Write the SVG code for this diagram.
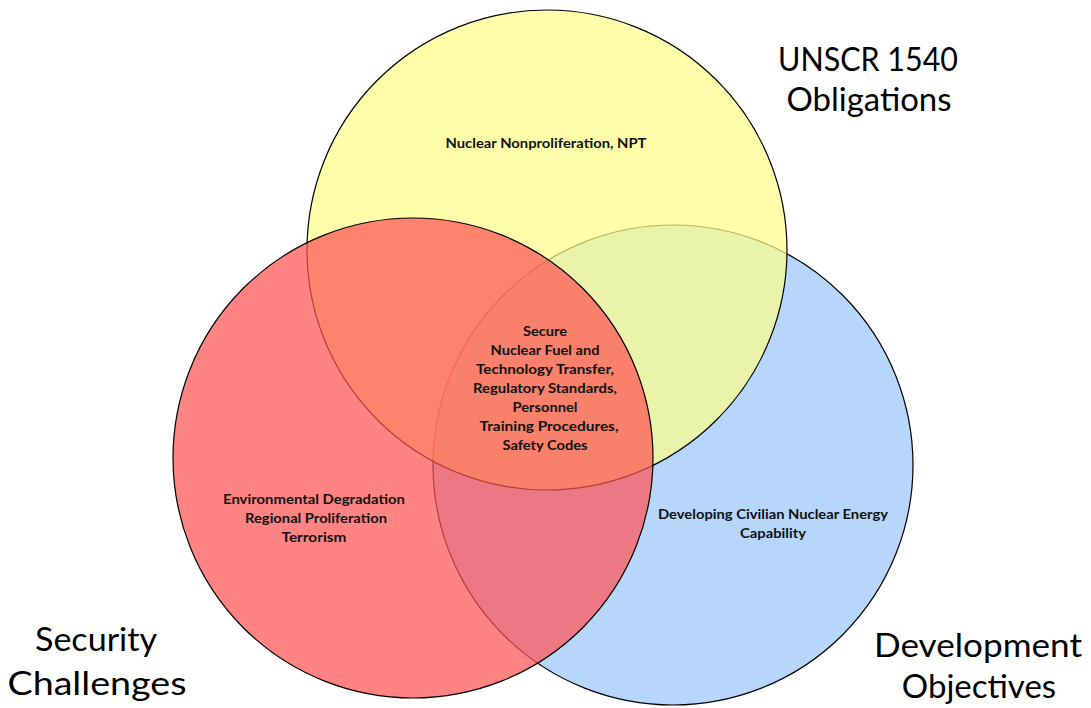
<svg xmlns="http://www.w3.org/2000/svg" width="1091" height="708" viewBox="0 0 1091 708">
<style>
.c{stroke:#000;stroke-width:1.2}
.s{font-family:Lato,"Open Sans","Liberation Sans",sans-serif;font-weight:bold;font-size:14px;fill:#111;text-anchor:middle}
.b{font-family:Lato,"Open Sans","Liberation Sans",sans-serif;font-size:33px;fill:#000;text-anchor:middle}
</style>
<rect width="1091" height="708" fill="#fff"/>
<g id="development">
<circle class="c" cx="673" cy="465" r="240" fill="#B6D6FB"/>
</g>
<g id="unscr">
<circle class="c" cx="547" cy="250" r="240" fill="rgb(255,255,135)" fill-opacity="0.7"/>
</g>
<g id="security">
<circle class="c" cx="413" cy="458" r="240" fill="rgb(255,83,83)" fill-opacity="0.72"/>
</g>
<g id="labels">
<text class="s" x="546" y="148" textLength="201" lengthAdjust="spacingAndGlyphs">Nuclear Nonproliferation, NPT</text>
<text class="s" x="545" y="336" textLength="44" lengthAdjust="spacingAndGlyphs">Secure</text>
<text class="s" x="545" y="355" textLength="109" lengthAdjust="spacingAndGlyphs">Nuclear Fuel and</text>
<text class="s" x="545" y="374" textLength="138" lengthAdjust="spacingAndGlyphs">Technology Transfer,</text>
<text class="s" x="545" y="393" textLength="144" lengthAdjust="spacingAndGlyphs">Regulatory Standards,</text>
<text class="s" x="545" y="412" textLength="65" lengthAdjust="spacingAndGlyphs">Personnel</text>
<text class="s" x="549" y="431" textLength="139" lengthAdjust="spacingAndGlyphs">Training Procedures,</text>
<text class="s" x="545" y="450" textLength="85" lengthAdjust="spacingAndGlyphs">Safety Codes</text>
<text class="s" x="314" y="504" textLength="182" lengthAdjust="spacingAndGlyphs">Environmental Degradation</text>
<text class="s" x="316" y="523" textLength="142" lengthAdjust="spacingAndGlyphs">Regional Proliferation</text>
<text class="s" x="314" y="542" textLength="65" lengthAdjust="spacingAndGlyphs">Terrorism</text>
<text class="s" x="773" y="519" textLength="230" lengthAdjust="spacingAndGlyphs">Developing Civilian Nuclear Energy</text>
<text class="s" x="773" y="538" textLength="66" lengthAdjust="spacingAndGlyphs">Capability</text>
<text class="b" x="868" y="71" textLength="180" lengthAdjust="spacingAndGlyphs">UNSCR 1540</text>
<text class="b" x="869" y="111" textLength="165" lengthAdjust="spacingAndGlyphs">Obligations</text>
<text class="b" x="96" y="651" textLength="122" lengthAdjust="spacingAndGlyphs">Security</text>
<text class="b" x="97" y="695" textLength="179" lengthAdjust="spacingAndGlyphs">Challenges</text>
<text class="b" x="978" y="657" textLength="208" lengthAdjust="spacingAndGlyphs">Development</text>
<text class="b" x="979" y="698">Objectives</text>
</g>
</svg>
